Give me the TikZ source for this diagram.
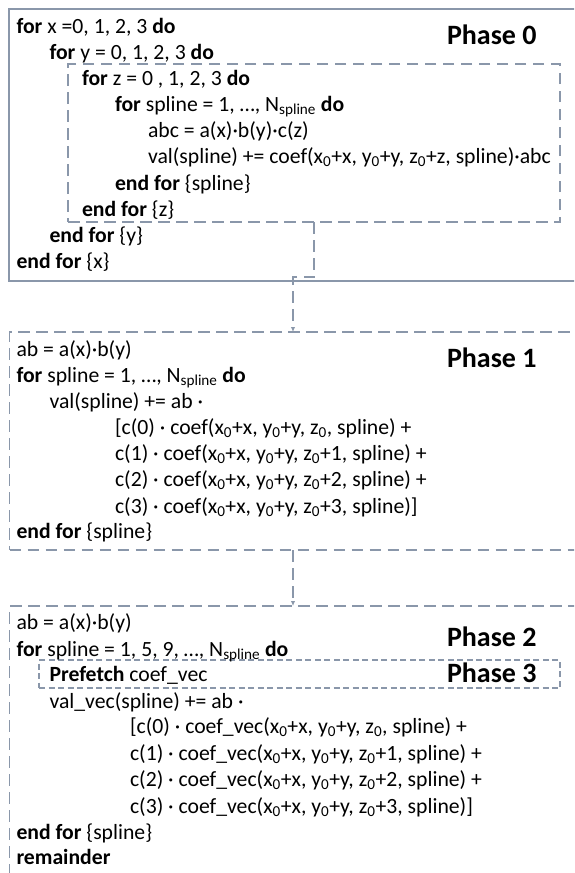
\documentclass[tikz,border=0pt]{standalone}
\usepackage{fontspec}
\setmainfont{Carlito}
\usetikzlibrary{calc,arrows.meta}
\definecolor{framegray}{RGB}{138,151,170}

\begin{document}
\begin{tikzpicture}[x=1pt,y=-1pt]
        \tikzstyle{every node}=[inner sep=0pt, outer sep=0pt, font=\fontsize{21.7}{26}\selectfont]
        \tikzstyle{code}=[anchor=base west]
        \tikzstyle{phase}=[anchor=base west, font=\fontsize{28}{34}\selectfont\bfseries]
        \tikzstyle{frame}=[draw=framegray, line width=1.8pt, anchor=north west]
        \tikzstyle{dashframe}=[frame, line width=1.5pt, dash pattern=on 11.5pt off 6.5pt]
        \tikzstyle{finedash}=[frame, line width=1.1pt, dash pattern=on 6pt off 3.5pt]
        \tikzstyle{link}=[draw=framegray, line width=1.5pt, dash pattern=on 11.5pt off 6.5pt, -{Latex[length=5pt,width=4.5pt]}]
        \useasboundingbox (0,0) rectangle (574,873);
        \clip (0,0) rectangle (574,873);
        % frames
        \node[frame, minimum width=568pt, minimum height=272pt] (phase0box) at (9,9) {};
        \node[dashframe, minimum width=492pt, minimum height=158pt] (zloop) at (68,64) {};
        \node[dashframe, minimum width=567pt, minimum height=218pt] (phase1box) at (9.5,332) {};
        \node[dashframe, minimum width=567pt, minimum height=300pt] (phase2box) at (9.5,606) {};
        \node[finedash, minimum width=521pt, minimum height=28pt] (prefetch) at (39,660) {};
        % phase 0
        \node[phase] (phase0) at (447,44) {Phase 0};
        \node[code] (xfor) at (16.5,33) {\textbf{for} x =0, 1, 2, 3 \textbf{do}};
        \node[code] (yfor) at (49.5,59) {\textbf{for} y = 0, 1, 2, 3 \textbf{do}};
        \node[code] (zfor) at (82,85.5) {\textbf{for} z = 0 , 1, 2, 3 \textbf{do}};
        \node[code] (sfor) at (115,111.5) {\textbf{for} spline = 1, …, N\textsubscript{spline} \textbf{do}};
        \node[code] (abc) at (148,137.5) {abc = a(x)·b(y)·c(z)};
        \node[code] (val) at (148,163.5) {val(spline) += coef(x\textsubscript{0}+x, y\textsubscript{0}+y, z\textsubscript{0}+z, spline)·abc};
        \node[code] (send) at (115,190) {\textbf{end for} \{spline\}};
        \node[code] (zend) at (82,216) {\textbf{end for} \{z\}};
        \node[code] (yend) at (49.5,242) {\textbf{end for} \{y\}};
        \node[code] (xend) at (16.5,268) {\textbf{end for} \{x\}};
        % phase 1
        \node[phase] (phase1) at (447,367) {Phase 1};
        \node[code] (ab1) at (16.5,356.5) {ab = a(x)·b(y)};
        \node[code] (sfor1) at (16.5,382.5) {\textbf{for} spline = 1, …, N\textsubscript{spline} \textbf{do}};
        \node[code] (val1) at (49.5,408.5) {val(spline) += ab ·};
        \node[code] (c0) at (115,434.5) {[c(0) · coef(x\textsubscript{0}+x, y\textsubscript{0}+y, z\textsubscript{0}, spline) +};
        \node[code] (c1) at (115,460.5) {c(1) · coef(x\textsubscript{0}+x, y\textsubscript{0}+y, z\textsubscript{0}+1, spline) +};
        \node[code] (c2) at (115,486.5) {c(2) · coef(x\textsubscript{0}+x, y\textsubscript{0}+y, z\textsubscript{0}+2, spline) +};
        \node[code] (c3) at (115,513) {c(3) · coef(x\textsubscript{0}+x, y\textsubscript{0}+y, z\textsubscript{0}+3, spline)]};
        \node[code] (send1) at (16.5,538.5) {\textbf{end for} \{spline\}};
        % phase 2 and 3
        \node[phase] (phase2) at (447,646) {Phase 2};
        \node[phase] (phase3) at (447,682) {Phase 3};
        \node[code] (ab2) at (16.5,629.5) {ab = a(x)·b(y)};
        \node[code] (sfor2) at (16.5,656.5) {\textbf{for} spline = 1, 5, 9, …, N\textsubscript{spline} \textbf{do}};
        \node[code] (pre) at (49.5,681.5) {\textbf{Prefetch} coef\_vec};
        \node[code] (val2) at (49.5,708.5) {val\_vec(spline) += ab ·};
        \node[code] (v0) at (130,733.5) {[c(0) · coef\_vec(x\textsubscript{0}+x, y\textsubscript{0}+y, z\textsubscript{0}, spline) +};
        \node[code] (v1) at (130,760.5) {c(1) · coef\_vec(x\textsubscript{0}+x, y\textsubscript{0}+y, z\textsubscript{0}+1, spline) +};
        \node[code] (v2) at (130,786.5) {c(2) · coef\_vec(x\textsubscript{0}+x, y\textsubscript{0}+y, z\textsubscript{0}+2, spline) +};
        \node[code] (v3) at (130,813.5) {c(3) · coef\_vec(x\textsubscript{0}+x, y\textsubscript{0}+y, z\textsubscript{0}+3, spline)]};
        \node[code] (send2) at (16.5,839.5) {\textbf{end for} \{spline\}};
        \node[code] (rest) at (16.5,864.5) {\textbf{remainder}};
        % connectors
        \draw[link] (zloop.south) |- ($(zloop.south)!.5!(phase1box.north)$) -| (phase1box.north);
        \draw[link] (phase1box.south) -- (phase2box.north);
    \end{tikzpicture}
\end{document}
